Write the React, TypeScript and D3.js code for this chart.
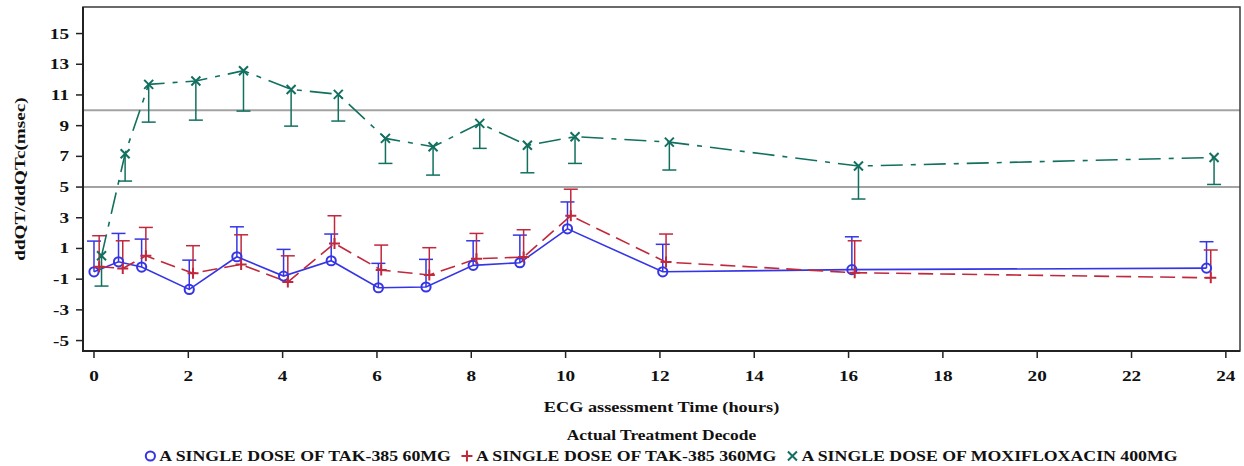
import React, { useEffect, useRef } from "react";
import * as d3 from "d3";

const W = 1244;
const H = 466;

const xTicks = [0, 2, 4, 6, 8, 10, 12, 14, 16, 18, 20, 22, 24];
const yTicks = [-5, -3, -1, 1, 3, 5, 7, 9, 11, 13, 15];
const refLines = [5, 10];

const seriesNames = [
  "A SINGLE DOSE OF TAK-385 60MG",
  "A SINGLE DOSE OF TAK-385 360MG",
  "A SINGLE DOSE OF MOXIFLOXACIN 400MG",
];
const seriesColors = ["#3535e6", "#c0283c", "#12705f"];

const time60 = [0.0, 0.52, 1.01, 2.02, 3.03, 4.02, 5.03, 6.03, 7.04, 8.04, 9.03, 10.04, 12.06, 16.07, 23.59];
const mean60 = [-0.52, 0.13, -0.21, -1.67, 0.46, -0.8, 0.2, -1.56, -1.51, -0.1, 0.07, 2.28, -0.52, -0.38, -0.28];
const upper60 = [1.48, 1.98, 1.61, 0.24, 2.41, 0.94, 1.94, 0.03, 0.29, 1.5, 1.87, 4.03, 1.27, 1.76, 1.44];

const time360 = [0.11, 0.61, 1.1, 2.1, 3.12, 4.11, 5.1, 6.09, 7.11, 8.11, 9.11, 10.11, 12.13, 16.13, 23.68];
const mean360 = [-0.19, -0.3, 0.52, -0.62, -0.04, -1.19, 1.33, -0.41, -0.73, 0.33, 0.44, 3.13, 0.11, -0.58, -0.91];
const upper360 = [1.83, 1.5, 2.37, 1.18, 1.89, 0.52, 3.13, 1.22, 1.05, 1.98, 2.22, 4.86, 1.94, 1.5, 0.9];

const timeMoxi = [0.16, 0.66, 1.16, 2.16, 3.17, 4.18, 5.18, 6.18, 7.19, 8.18, 9.19, 10.2, 12.2, 16.21, 23.75];
const meanMoxi = [0.52, 7.17, 11.69, 11.91, 12.58, 11.36, 11.04, 8.17, 7.63, 9.15, 7.72, 8.28, 7.93, 6.37, 6.93];
const lowerMoxi = [-1.45, 5.39, 9.23, 9.36, 9.95, 8.97, 9.3, 6.54, 5.78, 7.52, 5.93, 6.54, 6.11, 4.22, 5.17];

const FONT = '"Liberation Serif"';
const SX = 1.28;

export default function App() {
  const ref = useRef<SVGSVGElement | null>(null);

  useEffect(() => {
    const svg = d3.select(ref.current);
    svg.selectAll("*").remove();

    const left = 83, right = 1240, top = 7, bottom = 351;
    const x = d3.scaleLinear().domain([-0.233, 24.3]).range([left, right]);
    const y = d3.scaleLinear().domain([-5.68, 16.73]).range([bottom, top]);

    const g = svg.append("g");

    const txt = (sel: any, size: number, tx: number, ty: number, anchor: string, rot = 0) =>
      sel.append("text")
        .style("font-family", FONT).style("font-weight", "bold")
        .style("font-size", `${size}px`).attr("fill", "#111")
        .attr("text-anchor", anchor)
        .attr("transform", `translate(${tx},${ty})${rot ? ` rotate(${rot})` : ""} scale(${SX},1)`);

    g.selectAll("line.ref")
      .data(refLines)
      .enter()
      .append("line")
      .attr("x1", left)
      .attr("x2", right)
      .attr("y1", (d) => y(d))
      .attr("y2", (d) => y(d))
      .attr("stroke", "#a3a3a3")
      .attr("stroke-width", 2);

    const series = [
      { t: time60, m: mean60, e: upper60, color: seriesColors[0], dash: null as string | null, marker: "circle" },
      { t: time360, m: mean360, e: upper360, color: seriesColors[1], dash: "15,7", marker: "plus" },
      { t: timeMoxi, m: meanMoxi, e: lowerMoxi, color: seriesColors[2], dash: "22,8,5,8", marker: "x" },
    ];

    const capHalf = 7;

    series.forEach((s) => {
      const pts = s.t.map((t, i) => ({ t, m: s.m[i], e: s.e[i] }));
      const eg = g.append("g");
      pts.forEach((p) => {
        eg.append("line")
          .attr("x1", x(p.t)).attr("x2", x(p.t))
          .attr("y1", y(p.m)).attr("y2", y(p.e))
          .attr("stroke", s.color).attr("stroke-width", 1.5);
        eg.append("line")
          .attr("x1", x(p.t) - capHalf).attr("x2", x(p.t) + capHalf)
          .attr("y1", y(p.e)).attr("y2", y(p.e))
          .attr("stroke", s.color).attr("stroke-width", 1.5);
      });
      const line = d3.line<{ t: number; m: number }>().x((d) => x(d.t)).y((d) => y(d.m));
      const path = g.append("path")
        .attr("d", line(pts) as string)
        .attr("fill", "none")
        .attr("stroke", s.color)
        .attr("stroke-width", 1.6);
      if (s.dash) path.attr("stroke-dasharray", s.dash);
    });

    const drawMarker = (sel: any, type: string, cx: number, cy: number, color: string) => {
      if (type === "circle") {
        sel.append("circle").attr("cx", cx).attr("cy", cy).attr("r", 4.6)
          .attr("fill", "none").attr("stroke", color).attr("stroke-width", 2);
      } else if (type === "plus") {
        const r = 5.5;
        sel.append("path")
          .attr("d", `M${cx - r},${cy}H${cx + r}M${cx},${cy - r}V${cy + r}`)
          .attr("stroke", color).attr("stroke-width", 2).attr("fill", "none");
      } else {
        const r = 4.5;
        sel.append("path")
          .attr("d", `M${cx - r},${cy - r}L${cx + r},${cy + r}M${cx - r},${cy + r}L${cx + r},${cy - r}`)
          .attr("stroke", color).attr("stroke-width", 2).attr("fill", "none");
      }
    };

    series.forEach((s) => {
      const mg = g.append("g");
      s.t.forEach((t, i) => drawMarker(mg, s.marker, x(t), y(s.m[i]), s.color));
    });

    g.append("rect")
      .attr("x", left).attr("y", top)
      .attr("width", right - left).attr("height", bottom - top)
      .attr("fill", "none").attr("stroke", "#3a3a3a").attr("stroke-width", 1.5);
    g.append("line").attr("x1", left).attr("x2", left).attr("y1", top).attr("y2", bottom + 1)
      .attr("stroke", "#222").attr("stroke-width", 2);
    g.append("line").attr("x1", left - 1).attr("x2", right).attr("y1", bottom).attr("y2", bottom)
      .attr("stroke", "#222").attr("stroke-width", 2);

    xTicks.forEach((v) => {
      g.append("line").attr("x1", x(v)).attr("x2", x(v)).attr("y1", bottom).attr("y2", bottom + 7)
        .attr("stroke", "#222").attr("stroke-width", 1.5);
      txt(g, 15, x(v), bottom + 30, "middle").text(String(v));
    });

    yTicks.forEach((v) => {
      g.append("line").attr("x1", left - 7).attr("x2", left).attr("y1", y(v)).attr("y2", y(v))
        .attr("stroke", "#222").attr("stroke-width", 1.5);
      txt(g, 15, left - 14, y(v) + 5, "end").text(String(v));
    });

    const cx = (left + right) / 2;
    txt(g, 14.3, cx, 412, "middle").text("ECG assessment Time (hours)");
    txt(g, 15, 25, (top + bottom) / 2, "middle", -90).text("ddQT/ddQTc(msec)");
    txt(g, 13.6, cx, 440, "middle").text("Actual Treatment Decode");

    const lg = g.append("g");
    const items: { node: any; w: number }[] = [];
    const markerTypes = ["circle", "plus", "x"];
    const gapMarker = 4;
    const gapItem = 11;
    seriesNames.forEach((name) => {
      const tnode = txt(lg, 13.9, 0, 461, "start").text(name);
      const w = (tnode.node() as SVGTextElement).getComputedTextLength() * SX;
      items.push({ node: tnode, w });
    });
    const total = items.reduce((a, it) => a + 10 + gapMarker + it.w, 0) + gapItem * (items.length - 1);
    let cur = cx - total / 2;
    items.forEach((it, i) => {
      drawMarker(lg, markerTypes[i], cur + 5, 456, seriesColors[i]);
      it.node.attr("transform", `translate(${cur + 10 + gapMarker},461) scale(${SX},1)`);
      cur += 10 + gapMarker + it.w + gapItem;
    });
  }, []);

  return (
    <svg
      ref={ref}
      width={W}
      height={H}
      style={{ position: "fixed", left: 0, top: 0, background: "#fff", display: "block" }}
    />
  );
}
